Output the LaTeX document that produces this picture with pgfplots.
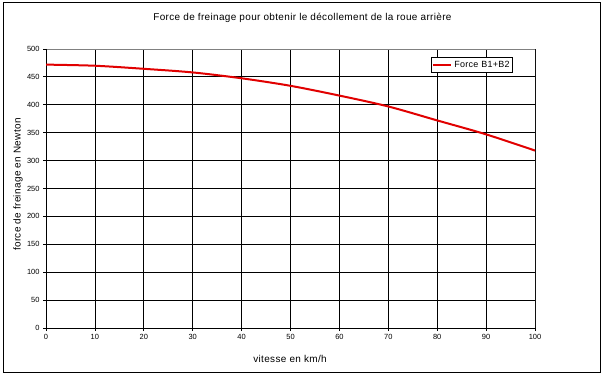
\documentclass[border=0pt]{standalone}
\usepackage{pgfplots}
\pgfplotsset{compat=1.18}
\usepackage{fontspec}
\setmainfont{Liberation Sans}
\newfontfamily\spaced[LetterSpace=3.5]{Liberation Sans}
\definecolor{linered}{RGB}{225,0,0}
\pgfplotstableread{
x y
0 472
10 470
20 464.5
30 458
40 447.5
50 434
60 416.5
70 397
80 372
90 347
100 318
}\forcedata
\begin{document}
\begin{tikzpicture}[x=1bp,y=1bp]
\fill[white] (0,0) rectangle (605,375);
\draw[black, line width=1bp] (3,3) rectangle (600,372);
\node[font=\spaced\fontsize{10}{12}\selectfont] at (302.5,357) {Force de freinage pour obtenir le décollement de la roue arrière};
\node[font=\spaced\fontsize{10}{12}\selectfont] at (290,16) {vitesse en km/h};
\node[font=\spaced\fontsize{10}{12}\selectfont, rotate=90] at (18,190.5) {force de freinage en Newton};
\begin{axis}[
  at={(46bp,47bp)}, anchor=south west,
  scale only axis, width=489bp, height=279bp,
  xmin=0, xmax=100, ymin=0, ymax=500,
  xtick={0,10,...,100}, ytick={0,50,...,500},
  xtick pos=bottom, ytick pos=left,
  tick align=outside, major tick length=3bp,
  tick style={black, line width=0.8bp},
  grid=major, grid style={black, line width=0.8bp},
  axis line style={draw=none},
  /pgf/number format/assume math mode=true,
  ticklabel style={font=\fontsize{7.5}{9}\selectfont},
  legend style={at={(0.955,0.971)}, anchor=north east, draw=black, line width=0.6bp,
    font=\spaced\fontsize{9}{10}\selectfont, inner xsep=1bp, inner ysep=1.5bp,
    cells={anchor=west}},
  legend image code/.code={\draw[#1] (0bp,0bp) -- (18bp,0bp);},
]
\draw[gray, line width=0.8bp] (rel axis cs:0,1) -- (rel axis cs:1,1) -- (rel axis cs:1,0);
\draw[black, line width=0.8bp] (rel axis cs:0,1) -- (rel axis cs:0,0) -- (rel axis cs:1,0);
\addplot[linered, line width=2bp, smooth] table[x=x,y=y] {\forcedata};
\addlegendentry{Force B1+B2}
\end{axis}
\end{tikzpicture}
\end{document}
